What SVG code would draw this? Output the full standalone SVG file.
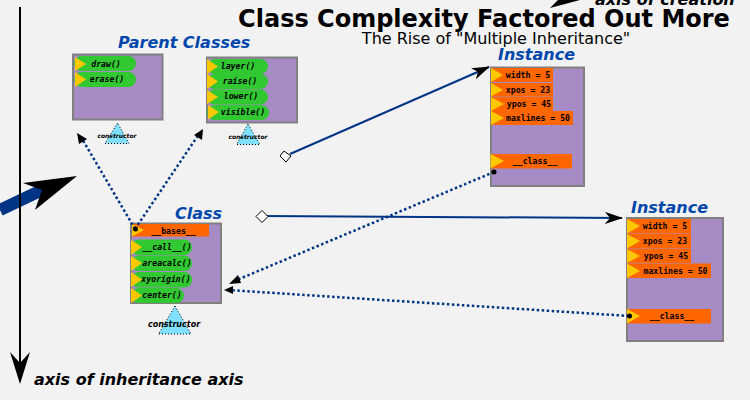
<svg xmlns="http://www.w3.org/2000/svg" width="750" height="400" viewBox="0 0 750 400">
<style>
text{font-family:"DejaVu Sans",sans-serif}
.h{font-weight:bold;font-style:italic;font-size:16px;fill:#0047ab}
.box{fill:#a68bc5;stroke:#808080;stroke-width:2}
.m{fill:#32c832}
.a{fill:#ff6600}
.y{fill:#ffc800}
.mt{font-family:"DejaVu Sans Mono",monospace;font-weight:bold;font-style:italic;font-size:8.200px;text-anchor:middle;fill:#000}
.at{font-family:"DejaVu Sans Mono",monospace;font-weight:bold;font-size:8.200px;fill:#000;text-anchor:middle}
.tri{fill:#80e0ff;stroke:#000;stroke-width:1;stroke-dasharray:1 2}
.c{font-weight:bold;font-style:italic;fill:#000;text-anchor:middle}
.dot{fill:none;stroke:#003585;stroke-width:2.500;stroke-dasharray:2.500 2.500}
.sol{fill:none;stroke:#003585;stroke-width:2}
</style>
<defs>
<marker id="ah" markerUnits="userSpaceOnUse" viewBox="0 0 18 12" refX="17" refY="6" markerWidth="18" markerHeight="12" orient="auto"><path d="M0 0L18 6L0 12L5 6Z" fill="#000"/></marker>
</defs>
<rect width="750" height="400" fill="#f2f2f2"/>
<g id="title">
<text x="484" y="27" font-size="24" font-weight="bold" text-anchor="middle" fill="#000">Class Complexity Factored Out More</text>
<text x="496" y="44" font-size="16" text-anchor="middle" fill="#000">The Rise of "Multiple Inheritance"</text>
<text x="595" y="5" font-size="16" font-weight="bold" font-style="italic" fill="#000">axis of creation</text>
<text x="34" y="385" font-size="16" font-weight="bold" font-style="italic" fill="#000">axis of inheritance axis</text>
</g>
<g id="parent1">
<text x="118" y="48" class="h">Parent Classes</text>
<rect x="73" y="54.500" width="89.500" height="65" class="box"/>
<rect x="74" y="56" width="62" height="15" rx="7.500" class="m"/><path d="M75 57L86 64L75 71Z" class="y"/><text x="106" y="67" class="mt">draw()</text>
<rect x="74" y="72" width="62" height="15" rx="7.500" class="m"/><path d="M75 72L86 79.500L75 87Z" class="y"/><text x="107" y="82" class="mt">erase()</text>
<path d="M117.500 123L105 143.500H129Z" class="tri"/><text x="117" y="138" class="c" font-size="6">constructor</text>
</g>
<g id="parent2">
<rect x="207" y="57.500" width="90" height="65" class="box"/>
<rect x="207" y="59" width="61" height="15" rx="7.500" class="m"/><path d="M207 59L218 66.500L207 74Z" class="y"/><text x="238" y="69" class="mt">layer()</text>
<rect x="207" y="74" width="61" height="15" rx="7.500" class="m"/><path d="M207 74L218 81.500L207 89Z" class="y"/><text x="240" y="84" class="mt">raise()</text>
<rect x="207" y="89.500" width="61" height="15" rx="7.500" class="m"/><path d="M207 90L218 97L207 104Z" class="y"/><text x="241" y="99" class="mt">lower()</text>
<rect x="207" y="105" width="62" height="15" rx="7.500" class="m"/><path d="M208 105L219 112L208 119.500Z" class="y"/><text x="243" y="115" class="mt">visible()</text>
<path d="M248 124L236.500 144.500H260Z" class="tri"/><text x="248" y="139" class="c" font-size="6">constructor</text>
</g>
<g id="class">
<text x="175" y="219" class="h">Class</text>
<rect x="131" y="223.500" width="90" height="79.500" class="box"/>
<rect x="132" y="224" width="77" height="12.500" class="a"/><path d="M132 224L144 230L132 236.500Z" class="y"/><text x="173.500" y="234" class="at">__bases__</text>
<rect x="131" y="239.500" width="61" height="15.500" rx="7.500" class="m"/><path d="M131 240L142 247L131 255Z" class="y"/><text x="167" y="249.500" class="mt">__call__()</text>
<rect x="131" y="255.500" width="61" height="15.500" rx="7.500" class="m"/><path d="M131 256L142 263L131 271Z" class="y"/><text x="167" y="265.500" class="mt">areacalc()</text>
<rect x="131" y="272" width="61" height="15.500" rx="7.500" class="m"/><path d="M131 272L142 279.500L131 287Z" class="y"/><text x="166" y="282" class="mt">xyorigin()</text>
<rect x="131" y="288" width="53" height="15" rx="7.500" class="m"/><path d="M131 288L142 295.500L131 303Z" class="y"/><text x="162" y="298" class="mt">center()</text>
<path d="M175 306L158.500 334H191Z" class="tri"/><text x="174" y="327" class="c" font-size="8">constructor</text>
</g>
<g id="instance1">
<text x="498" y="60" class="h">Instance</text>
<rect x="491" y="67.500" width="93" height="118.500" class="box"/>
<rect x="491" y="68" width="62" height="14" class="a"/><path d="M491 68L503 75L491 82Z" class="y"/><text x="528" y="78" class="at">width = 5</text>
<rect x="491" y="83" width="62" height="13.500" class="a"/><path d="M491 83L503 90L491 96.500Z" class="y"/><text x="528" y="92.500" class="at">xpos = 23</text>
<rect x="491" y="97" width="62" height="14" class="a"/><path d="M491 97L504 104L491 111Z" class="y"/><text x="529" y="107" class="at">ypos = 45</text>
<rect x="491" y="111" width="82" height="14" class="a"/><path d="M491 111L504 118L491 125Z" class="y"/><text x="538" y="121" class="at">maxlines = 50</text>
<rect x="491" y="154" width="81" height="14.500" class="a"/><path d="M490.500 154L504 161L490.500 168.500Z" class="y"/><text x="535" y="164" class="at">__class__</text>
</g>
<g id="instance2">
<text x="631" y="213" class="h">Instance</text>
<rect x="627" y="218" width="96" height="123" class="box"/>
<rect x="627" y="219" width="64" height="14.500" class="a"/><path d="M627 219L640 226L627 233.500Z" class="y"/><text x="665" y="229" class="at">width = 5</text>
<rect x="627" y="234" width="64" height="14.500" class="a"/><path d="M627 234L640 241L627 248.500Z" class="y"/><text x="665" y="244" class="at">xpos = 23</text>
<rect x="627" y="249" width="64" height="14" class="a"/><path d="M627 249L640 256L627 263Z" class="y"/><text x="666" y="259" class="at">ypos = 45</text>
<rect x="627" y="263.500" width="84" height="14.500" class="a"/><path d="M627 263.500L640 271L627 278Z" class="y"/><text x="675.500" y="273.500" class="at">maxlines = 50</text>
<rect x="627" y="309" width="84" height="14.500" class="a"/><path d="M627 309L640 316L627 323.500Z" class="y"/><text x="672" y="319" class="at">__class__</text>
</g>
<g id="connectors">
<path d="M0 210L42 190" stroke="#003585" stroke-width="12" fill="none"/>
<path d="M77 176L23 183L42 190L35 210Z" fill="#000"/>
<path d="M20 7V370" stroke="#000" stroke-width="2" fill="none"/>
<path d="M20 384L10 352L20 363L30 352Z" fill="#000"/>
<path d="M550 8L558 0H580Z" fill="#000"/>
<path d="M135 229L81 137" class="dot"/><path d="M77 133L87 139L79 144Z" fill="#000"/>
<path d="M135 229L199 134" class="dot"/><path d="M203 129L202 140L194 135Z" fill="#000"/>
<path d="M494 172L232 282" class="dot"/><path d="M229 284L238 275L241 283Z" fill="#000"/>
<path d="M629 316L228 290" class="dot"/><path d="M224 290L233 286L233 294Z" fill="#000"/>
<path d="M290 154L489 67" class="sol" marker-end="url(#ah)"/>
<path d="M262 216L622 218" class="sol" marker-end="url(#ah)"/>
<path d="M280 156L284 151L291 156L286 162Z" fill="#fff" stroke="#000"/>
<path d="M256 216.500L262 210.500L268 216.500L262 222.500Z" fill="#fff" stroke="#000"/>
<circle cx="135.500" cy="229" r="2.500" fill="#000"/>
<circle cx="494" cy="172" r="2.500" fill="#000"/>
<circle cx="629.500" cy="316" r="2.500" fill="#000"/>
</g>
</svg>
